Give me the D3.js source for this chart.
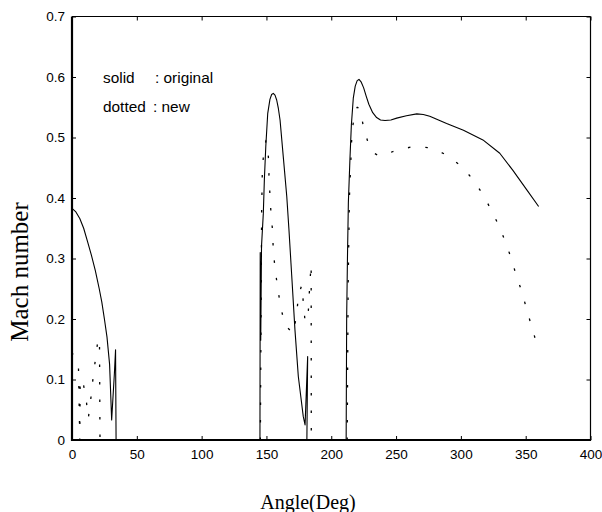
<!DOCTYPE html>
<html>
<head>
<meta charset="utf-8">
<script src="https://cdn.jsdelivr.net/npm/d3@7"></script>
<style>
  body { margin: 0; background: #fff; }
</style>
</head>
<body>
<svg class="machchart"></svg>
<script>
// MACH NUMBER vs ANGLE, solid = original, dotted = new

// tick labels
let xTicks = [0, 50, 100, 150, 200, 250, 300, 350, 400];
let yTicks = [0, 0.1, 0.2, 0.3, 0.4, 0.5, 0.6, 0.7];

// solid (original) - three separate pieces
let solidAngle1 = [0, 3, 6, 9, 12, 15, 18, 21, 23, 25, 27, 29, 30.6, 32.7, 33.6, 34];
let solidMach1  = [0.383, 0.377, 0.366, 0.35, 0.328, 0.305, 0.28, 0.25, 0.228, 0.2, 0.17, 0.125, 0.033, 0.11, 0.149, 0];

let solidAngle2 = [145, 145.2, 145.6, 146.2, 147.6, 148.4, 149.5, 151, 152.7, 154, 155.3, 156.6, 157.9, 159.2, 160.5, 163, 165.7, 167.3, 169.5, 172, 174.6, 178.4, 179.8, 181.8, 181.2];
let solidMach2  = [0, 0.31, 0.165, 0.32, 0.375, 0.43, 0.485, 0.54, 0.563, 0.571, 0.573, 0.57, 0.562, 0.548, 0.529, 0.468, 0.402, 0.35, 0.272, 0.182, 0.105, 0.039, 0.025, 0.138, 0];

let solidAngle3 = [211.5, 211.9, 212.5, 213.2, 214.4, 215.5, 217, 218.5, 220, 221.4, 223, 225, 227, 229, 232, 235, 238, 241.5, 246, 250.5, 258, 266, 271, 276, 289, 302, 317, 330, 340, 351, 360];
let solidMach3  = [0, 0.204, 0.3, 0.392, 0.463, 0.52, 0.565, 0.585, 0.594, 0.596, 0.592, 0.582, 0.568, 0.555, 0.541, 0.533, 0.529, 0.528, 0.529, 0.532, 0.536, 0.539, 0.538, 0.535, 0.523, 0.512, 0.496, 0.474, 0.446, 0.413, 0.386];

// dotted (new)
let dottedAngle1 = [0, 5, 6, 6.3, 8.2, 10.8, 12.6, 14.4, 15.9, 17.7, 19.5, 21.2, 21.6];
let dottedMach1  = [0.145, 0.12, 0, 0.1, 0.099, 0.069, 0.036, 0.066, 0.096, 0.127, 0.157, 0.168, 0];

let dottedAngle2 = [145.3, 146.3, 146.8, 147.6, 149.6, 151.5, 152, 152.7, 153.5, 154.8, 155.3, 156.8, 158.7, 161, 164.3, 170.7, 173.3, 174.6, 177.2, 178.4, 179.8, 182, 183.5, 184.5, 184.6];
let dottedMach2  = [0, 0.377, 0.441, 0.468, 0.495, 0.468, 0.435, 0.405, 0.375, 0.344, 0.311, 0.281, 0.251, 0.22, 0.19, 0.176, 0.207, 0.237, 0.256, 0.229, 0.196, 0.2, 0.26, 0.29, 0];

let dottedAngle3 = [212.3, 213, 214, 216, 218.3, 220, 222.2, 224.8, 228.6, 233, 237.6, 250.5, 263.3, 277.5, 289, 300.6, 309.6, 317.3, 323.7, 329.6, 334.8, 339.2, 343, 347.4, 350.8, 355, 359];
let dottedMach3  = [0, 0.25, 0.4, 0.51, 0.543, 0.55, 0.548, 0.518, 0.49, 0.474, 0.469, 0.479, 0.485, 0.483, 0.471, 0.452, 0.43, 0.405, 0.379, 0.353, 0.325, 0.298, 0.27, 0.243, 0.215, 0.185, 0.155];

let w = 602;
let h = 512;

let svg = d3.select("svg.machchart")
    .attr("width", w)
    .attr("height", h);

let left = 72;
let right = 590.5;
let top_space = 16.5;
let bottom = 440;

let x = d3.scaleLinear()
    .domain([0, 400])
    .range([left, right]);

let y = d3.scaleLinear()
    .domain([0, 0.7])
    .range([bottom, top_space]);

let tick_font = "13.5px 'Liberation Sans', Arial, sans-serif";

// bottom axis (ticks point inward)
let xaxis = svg.append("g")
    .attr("transform", "translate(0," + bottom + ")")
    .call(d3.axisBottom(x).tickValues(xTicks).tickSize(-4).tickPadding(9).tickFormat(d3.format("d")));
xaxis.style("font", tick_font);

// left axis
let yaxis = svg.append("g")
    .attr("transform", "translate(" + left + ",0)")
    .call(d3.axisLeft(y).tickValues(yTicks).tickSize(-4).tickPadding(7)
        .tickFormat(d => d == 0 ? "0" : d3.format(".1f")(d)));
yaxis.style("font", tick_font);

// top and right ticks, no labels
svg.append("g")
    .attr("transform", "translate(0," + top_space + ")")
    .call(d3.axisTop(x).tickValues(xTicks).tickSize(-4).tickFormat(""));
svg.append("g")
    .attr("transform", "translate(" + right + ",0)")
    .call(d3.axisRight(y).tickValues(yTicks).tickSize(-4).tickFormat(""));

svg.selectAll(".domain").remove();
svg.selectAll(".tick line").attr("stroke", "#000");
svg.selectAll(".tick text").attr("fill", "#000");

// box
svg.append("line")
    .attr("x1", left).attr("x2", right)
    .attr("y1", top_space).attr("y2", top_space)
    .attr("stroke", "#000").attr("stroke-width", 1.2);
svg.append("line")
    .attr("x1", right).attr("x2", right)
    .attr("y1", top_space).attr("y2", bottom)
    .attr("stroke", "#000").attr("stroke-width", 1.2);
svg.append("line")
    .attr("x1", left).attr("x2", left)
    .attr("y1", top_space).attr("y2", bottom + 1)
    .attr("stroke", "#000").attr("stroke-width", 2.2);
svg.append("line")
    .attr("x1", left - 1).attr("x2", right + 0.6)
    .attr("y1", bottom).attr("y2", bottom)
    .attr("stroke", "#000").attr("stroke-width", 2.2);

let line = d3.line()
    .x(d => x(d[0]))
    .y(d => y(d[1]));

let curves = svg.append("g").attr("class", "curves");

function draw(angles, machs, dotted) {
    let pts = angles.map((a, i) => [a, machs[i]]);
    curves.append("path")
        .datum(pts)
        .attr("d", line)
        .attr("fill", "none")
        .attr("stroke", "#000")
        .attr("stroke-width", dotted ? 1.3 : 1.1)
        .attr("stroke-linejoin", "round")
        .attr("stroke-dasharray", dotted ? "2.5,15" : null);
}

draw(solidAngle1, solidMach1, false);
draw(solidAngle2, solidMach2, false);
draw(solidAngle3, solidMach3, false);
draw(dottedAngle1, dottedMach1, true);
draw(dottedAngle2, dottedMach2, true);
draw(dottedAngle3, dottedMach3, true);

// legend text (slightly wide lettering as in the original)
let legend_font = "'Liberation Sans', Arial, sans-serif";
function legendText(px, py, txt) {
    svg.append("text")
        .attr("transform", "translate(" + px + "," + py + ") scale(1.1,1)")
        .attr("font-family", legend_font)
        .attr("font-size", "14px")
        .text(txt);
}
legendText(103, 83, "solid");
legendText(155, 83, ": original");
legendText(103, 112, "dotted");
legendText(153, 112, ": new");

// axis titles
svg.append("text")
    .attr("x", 308).attr("y", 509)
    .attr("text-anchor", "middle")
    .attr("font-family", "'Liberation Serif', 'Times New Roman', serif")
    .attr("font-size", "20px")
    .text("Angle(Deg)");

svg.append("text")
    .attr("transform", "translate(28,272) rotate(-90)")
    .attr("text-anchor", "middle")
    .attr("font-family", "'Liberation Serif', 'Times New Roman', serif")
    .attr("font-size", "25px")
    .text("Mach number");
</script>
</body>
</html>
